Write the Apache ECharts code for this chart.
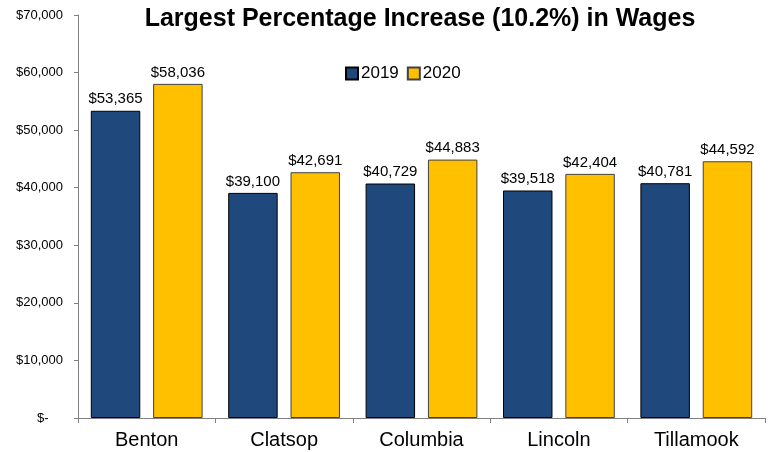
<!DOCTYPE html>
<html><head><meta charset="utf-8">
<script src="https://cdn.jsdelivr.net/npm/echarts@6/dist/echarts.min.js"></script>
<style>html,body{margin:0;padding:0;background:#fff}#c{width:772px;height:452px}</style>
</head><body><div id="c"></div>
<script>
const categories = ['Benton', 'Clatsop', 'Columbia', 'Lincoln', 'Tillamook'];
const wages2019 = [53365, 39100, 40729, 39518, 40781];
const wages2020 = [58036, 42691, 44883, 42404, 44592];
const seriesNames = ['2019', '2020'];
const titleText = 'Largest Percentage Increase (10.2%) in Wages';

const fmt = v => '$' + v.toLocaleString('en-US');
const chart = echarts.init(document.getElementById('c'));
chart.setOption({
  animation: false,
  title: {
    text: titleText, left: 415, top: 2, textAlign: 'center',
    textStyle: { fontFamily: 'Liberation Sans, Arial', fontSize: 25, fontWeight: 'bold', color: '#000' }
  },
  legend: {
    data: seriesNames, left: 340, top: 60, itemWidth: 12, itemHeight: 12, itemGap: 8,
    icon: 'rect',
    textStyle: { fontFamily: 'Liberation Sans, Arial', fontSize: 17, color: '#000', padding: [0,0,0,-2] }
  },
  grid: { left: 78, right: 7, top: 15, bottom: 34 },
  xAxis: {
    type: 'category', data: categories,
    axisLine: { lineStyle: { color: '#808080', width: 1 } },
    axisTick: { show: true, length: 5, lineStyle: { color: '#808080' } },
    axisLabel: { fontFamily: 'Liberation Sans, Arial', fontSize: 20, color: '#000', margin: 12 }
  },
  yAxis: {
    type: 'value', min: 0, max: 70000, interval: 10000,
    axisLine: { show: true, lineStyle: { color: '#808080', width: 1 } },
    axisTick: { show: true, length: 4, lineStyle: { color: '#808080' } },
    splitLine: { show: false },
    axisLabel: {
      fontFamily: 'Liberation Sans, Arial', fontSize: 13, color: '#000', margin: 15,
      formatter: v => v === 0 ? '$-    ' : fmt(v)
    }
  },
  series: [
    {
      name: seriesNames[0], type: 'bar', data: wages2019, barWidth: '36%', barGap: '26%',
      itemStyle: { color: '#1F487C', borderColor: '#000', borderWidth: 1 },
      label: { show: true, position: 'top', distance: 4, formatter: p => fmt(p.value),
        fontFamily: 'Liberation Sans, Arial', fontSize: 15, color: '#000' }
    },
    {
      name: seriesNames[1], type: 'bar', data: wages2020, barWidth: '36%', barGap: '26%',
      itemStyle: { color: '#FFC000', borderColor: '#404040', borderWidth: 1 },
      label: { show: true, position: 'top', distance: 4, formatter: p => fmt(p.value),
        fontFamily: 'Liberation Sans, Arial', fontSize: 15, color: '#000' }
    }
  ]
});
</script></body></html>
